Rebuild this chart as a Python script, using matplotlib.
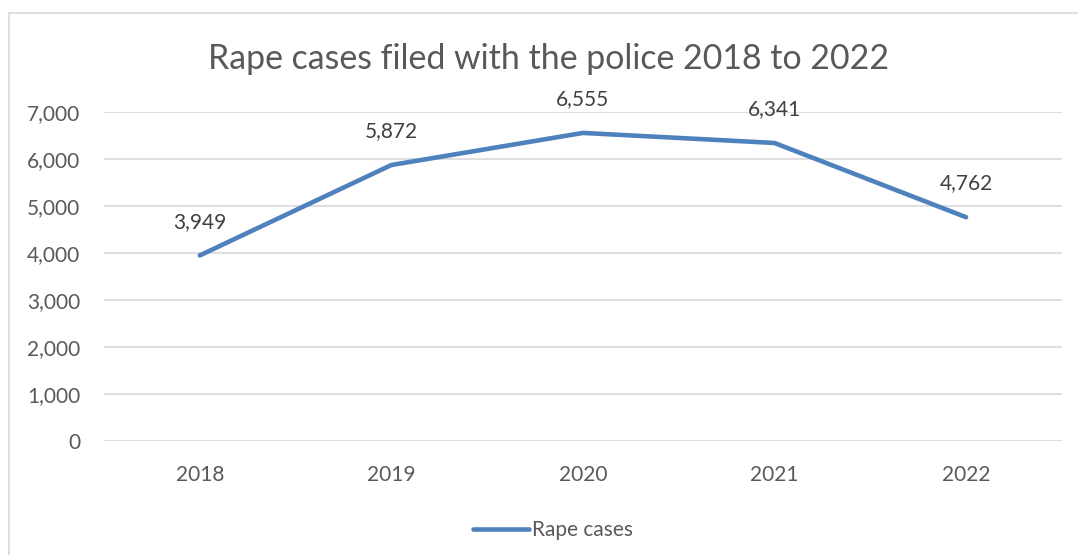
from matplotlib import pyplot as plt
from matplotlib.patches import Rectangle

years = ["2018", "2019", "2020", "2021", "2022"]
cases = [3949, 5872, 6555, 6341, 4762]
yticks = [0, 1000, 2000, 3000, 4000, 5000, 6000, 7000]

plt.rcParams['font.family'] = ['Lato', 'DejaVu Sans']
text_col = "#595959"
line_col = "#4f81bd"

fig = plt.figure(figsize=(10.78, 5.55), dpi=100)
ax = fig.add_axes([0.0965, 0.2054, 0.8885, 0.5928])

# outer chart border (cut off at right and bottom like the screenshot)
fig.patches.append(Rectangle((9 / 1078, -0.1), 1.2, 1 - 13 / 555 + 0.1,
                             transform=fig.transFigure, fill=False,
                             edgecolor="#d9d9d9", linewidth=1.2))

x = list(range(len(years)))
ax.plot(x, cases, color=line_col, linewidth=3.3, solid_capstyle="round",
        solid_joinstyle="round", label="Rape cases")
for xi, v in zip(x, cases):
    ax.annotate(f"{v:,}", (xi, v), xytext=(0, 17), textcoords="offset points",
                ha="center", va="bottom", fontsize=15, color="#404040")

ax.set_xlim(-0.5, len(years) - 0.5)
ax.set_ylim(0, 7000)
ax.set_xticks(x)
ax.set_xticklabels(years)
ax.set_yticks(yticks)
ax.set_yticklabels([f"{t:,}" for t in yticks])
ax.tick_params(length=0, labelsize=15, labelcolor=text_col)
ax.tick_params(axis="x", pad=17)
ax.tick_params(axis="y", pad=17)
ax.grid(axis="y", color="#d9d9d9", linewidth=1.2)
ax.set_axisbelow(True)
for s in ax.spines.values():
    s.set_visible(False)

fig.text(0.509, 0.894, "Rape cases filed with the police 2018 to 2022",
         ha="center", va="center", fontsize=24.4, color=text_col)

ax.legend(loc="center", bbox_to_anchor=(0.469, -0.27), frameon=False,
          fontsize=15, labelcolor=text_col, handlelength=2.7, handletextpad=0.15)

fig.savefig("out.png", dpi=100)
